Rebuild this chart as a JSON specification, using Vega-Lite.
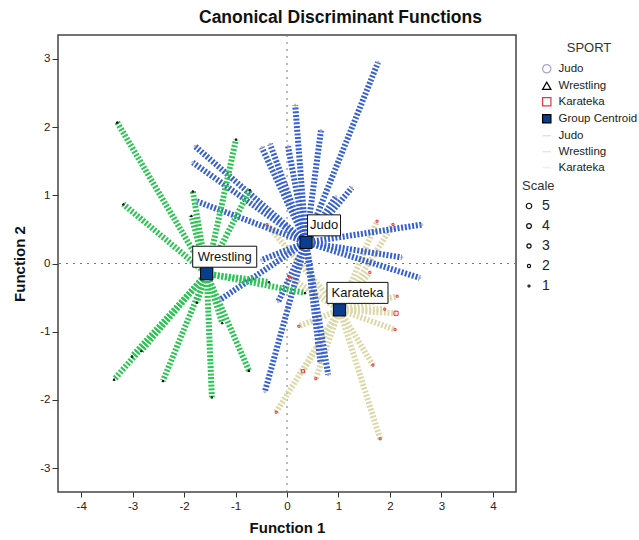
{
  "$schema": "https://vega.github.io/schema/vega-lite/v6.json",
  "width": 458,
  "height": 457,
  "autosize": {"type": "none"},
  "padding": {"left": 58, "top": 35, "right": 123, "bottom": 48},
  "background": "white",
  "config": {
    "font": "Liberation Sans",
    "view": {"stroke": "#444", "strokeWidth": 1.5},
    "axis": {"grid": false, "domain": false, "tickColor": "#333", "labelColor": "#222", "titleColor": "#111", "labelFontSize": 11.5, "titleFontSize": 15, "titleFontWeight": "bold", "labelExpr": "replace(datum.label, '\u2212', '-')"}
  },
  "title": {"text": "Canonical Discriminant Functions", "fontSize": 17.5, "fontWeight": "bold", "anchor": "start", "frame": "group", "dx": 141, "offset": 8, "color": "#111"},
  "datasets": {
    "cases": [
      {"group": "Karateka", "f1": -0.21, "f2": -2.18, "scale": 1},
      {"group": "Karateka", "f1": 1.81, "f2": -2.57, "scale": 1},
      {"group": "Karateka", "f1": 1.67, "f2": -1.49, "scale": 1},
      {"group": "Karateka", "f1": 0.56, "f2": -1.69, "scale": 1},
      {"group": "Karateka", "f1": 0.31, "f2": -1.58, "scale": 2},
      {"group": "Karateka", "f1": 0.23, "f2": -0.92, "scale": 1},
      {"group": "Karateka", "f1": 2.10, "f2": -0.97, "scale": 1},
      {"group": "Karateka", "f1": 2.12, "f2": -0.73, "scale": 3},
      {"group": "Karateka", "f1": 1.90, "f2": -0.67, "scale": 1},
      {"group": "Karateka", "f1": -0.39, "f2": 0.57, "scale": 1},
      {"group": "Karateka", "f1": 1.75, "f2": 0.62, "scale": 1},
      {"group": "Karateka", "f1": 2.06, "f2": 0.57, "scale": 1},
      {"group": "Karateka", "f1": 2.14, "f2": -0.48, "scale": 1},
      {"group": "Karateka", "f1": 1.61, "f2": -0.13, "scale": 1},
      {"group": "Karateka", "f1": 0.05, "f2": -0.20, "scale": 1},
      {"group": "Judo", "f1": 1.77, "f2": 2.95, "scale": 1},
      {"group": "Judo", "f1": 0.16, "f2": 2.32, "scale": 1},
      {"group": "Judo", "f1": 0.66, "f2": 1.95, "scale": 1},
      {"group": "Judo", "f1": 0.02, "f2": 1.72, "scale": 1},
      {"group": "Judo", "f1": -0.49, "f2": 1.70, "scale": 1},
      {"group": "Judo", "f1": -0.33, "f2": 1.75, "scale": 1},
      {"group": "Judo", "f1": 1.26, "f2": 1.11, "scale": 1},
      {"group": "Judo", "f1": 0.95, "f2": 0.98, "scale": 1},
      {"group": "Judo", "f1": -1.79, "f2": 1.72, "scale": 1},
      {"group": "Judo", "f1": -1.83, "f2": 1.48, "scale": 1},
      {"group": "Judo", "f1": -1.75, "f2": 0.91, "scale": 1},
      {"group": "Judo", "f1": 2.62, "f2": 0.57, "scale": 1},
      {"group": "Judo", "f1": 2.58, "f2": -0.21, "scale": 1},
      {"group": "Judo", "f1": 2.23, "f2": 0.09, "scale": 1},
      {"group": "Judo", "f1": -0.43, "f2": -1.88, "scale": 1},
      {"group": "Judo", "f1": 0.80, "f2": -1.63, "scale": 1},
      {"group": "Judo", "f1": 0.65, "f2": -1.45, "scale": 1},
      {"group": "Judo", "f1": -0.17, "f2": -0.56, "scale": 1},
      {"group": "Judo", "f1": -1.30, "f2": -0.53, "scale": 1},
      {"group": "Judo", "f1": -0.50, "f2": 0.05, "scale": 1},
      {"group": "Wrestling", "f1": -3.30, "f2": 2.07, "scale": 1},
      {"group": "Wrestling", "f1": -3.18, "f2": 0.87, "scale": 1},
      {"group": "Wrestling", "f1": -0.99, "f2": 1.82, "scale": 1},
      {"group": "Wrestling", "f1": -1.83, "f2": 1.06, "scale": 1},
      {"group": "Wrestling", "f1": -1.86, "f2": 0.70, "scale": 1},
      {"group": "Wrestling", "f1": -0.72, "f2": 1.08, "scale": 1},
      {"group": "Wrestling", "f1": -3.36, "f2": -1.70, "scale": 1},
      {"group": "Wrestling", "f1": -2.41, "f2": -1.72, "scale": 1},
      {"group": "Wrestling", "f1": -1.46, "f2": -1.96, "scale": 1},
      {"group": "Wrestling", "f1": -0.74, "f2": -1.57, "scale": 1},
      {"group": "Wrestling", "f1": 0.35, "f2": -0.43, "scale": 1},
      {"group": "Wrestling", "f1": -0.35, "f2": -0.27, "scale": 1},
      {"group": "Wrestling", "f1": -3.01, "f2": -1.36, "scale": 1},
      {"group": "Wrestling", "f1": -2.83, "f2": -1.28, "scale": 1},
      {"group": "Wrestling", "f1": -1.75, "f2": -0.57, "scale": 1},
      {"group": "Wrestling", "f1": -1.26, "f2": -0.87, "scale": 1}
    ],
    "centroids": [
      {"group": "Judo", "marker": "Group Centroid", "cf1": 0.37, "cf2": 0.31},
      {"group": "Wrestling", "marker": "Group Centroid", "cf1": -1.56, "cf2": -0.15},
      {"group": "Karateka", "marker": "Group Centroid", "cf1": 1.02, "cf2": -0.68}
    ]
  },
  "encoding": {
    "x": {"type": "quantitative", "scale": {"domain": [-4.45, 4.45], "nice": false, "zero": false}, "axis": {"title": "Function 1", "values": [-4, -3, -2, -1, 0, 1, 2, 3, 4], "tickSize": 5, "labelPadding": 3, "titlePadding": 9}},
    "y": {"type": "quantitative", "scale": {"domain": [-3.35, 3.35], "nice": false, "zero": false}, "axis": {"title": "Function 2", "values": [-3, -2, -1, 0, 1, 2, 3], "tickSize": 6, "labelPadding": 2, "titlePadding": 12}}
  },
  "layer": [
    {
      "data": {"values": [{}]},
      "mark": {"type": "rule", "stroke": "#777", "strokeDash": [2, 5], "strokeWidth": 1},
      "encoding": {"x": {"datum": 0, "type": "quantitative"}}
    },
    {
      "data": {"values": [{}]},
      "mark": {"type": "rule", "stroke": "#777", "strokeDash": [2, 5], "strokeWidth": 1},
      "encoding": {"y": {"datum": 0, "type": "quantitative"}}
    },
    {
      "data": {"name": "cases"},
      "transform": [{"lookup": "group", "from": {"data": {"name": "centroids"}, "key": "group", "fields": ["cf1", "cf2"]}}],
      "mark": {"type": "rule", "strokeWidth": 6, "strokeDash": [2, 1.7]},
      "encoding": {
        "x": {"field": "cf1", "type": "quantitative"},
        "y": {"field": "cf2", "type": "quantitative"},
        "x2": {"field": "f1"},
        "y2": {"field": "f2"},
        "color": {"field": "group", "type": "nominal", "scale": {"domain": ["Judo", "Wrestling", "Karateka"], "range": ["#3560d0", "#2bc552", "#ddd8aa"]}, "legend": null}
      }
    },
    {
      "data": {"name": "cases"},
      "mark": {"type": "point", "strokeWidth": 1, "opacity": 1},
      "encoding": {
        "x": {"field": "f1", "type": "quantitative"},
        "y": {"field": "f2", "type": "quantitative"},
        "shape": {"field": "group", "type": "nominal",
          "scale": {"domain": ["Judo", "Wrestling", "Karateka", "Group Centroid", "Judo·line", "Wrestling·line", "Karateka·line"], "range": ["circle", "triangle-up", "square", "square", "M-1,0H1", "M-1,0H1", "M-1,0H1"]},
          "legend": {"title": "SPORT", "orient": "none", "legendX": 483, "legendY": 7, "titleAnchor": "middle", "titleFontSize": 13, "titleFontWeight": "normal", "titleColor": "#333", "titlePadding": 8, "labelFontSize": 11.5, "labelColor": "#222", "symbolSize": 70, "symbolStrokeWidth": 1.2, "rowPadding": 3, "labelOffset": 6, "padding": 0, "labelExpr": "replace(datum.label, '·line', '')"}},
        "stroke": {"field": "group", "type": "nominal",
          "scale": {"domain": ["Judo", "Wrestling", "Karateka", "Group Centroid", "Judo·line", "Wrestling·line", "Karateka·line"], "range": ["#a6a6d6", "#000000", "#e23a3a", "#000000", "#d3dcf2", "#cdeed6", "#eeeeee"]},
          "legend": {"title": "SPORT", "orient": "none", "legendX": 483, "legendY": 7, "titleAnchor": "middle", "titleFontSize": 13, "titleFontWeight": "normal", "titleColor": "#333", "titlePadding": 8, "labelFontSize": 11.5, "labelColor": "#222", "symbolSize": 70, "symbolStrokeWidth": 1.2, "rowPadding": 3, "labelOffset": 6, "padding": 0, "labelExpr": "replace(datum.label, '·line', '')"}},
        "fill": {"field": "group", "type": "nominal",
          "scale": {"domain": ["Judo", "Wrestling", "Karateka", "Group Centroid", "Judo·line", "Wrestling·line", "Karateka·line"], "range": ["transparent", "transparent", "transparent", "#0b3d8f", "transparent", "transparent", "transparent"]},
          "legend": {"title": "SPORT", "orient": "none", "legendX": 483, "legendY": 7, "titleAnchor": "middle", "titleFontSize": 13, "titleFontWeight": "normal", "titleColor": "#333", "titlePadding": 8, "labelFontSize": 11.5, "labelColor": "#222", "symbolSize": 70, "symbolStrokeWidth": 1.2, "rowPadding": 3, "labelOffset": 6, "padding": 0, "labelExpr": "replace(datum.label, '·line', '')"}},
        "size": {"field": "scale", "type": "quantitative", "scale": {"domain": [1, 5], "range": [4, 30]},
          "legend": {"title": "Scale", "orient": "none", "legendX": 464, "legendY": 145, "values": [5, 4, 3, 2, 1], "titleFontSize": 13, "titleFontWeight": "normal", "titleColor": "#333", "titlePadding": 6, "labelFontSize": 14, "labelColor": "#222", "symbolType": "circle", "symbolStrokeColor": "#111", "symbolFillColor": "white", "symbolStrokeWidth": 1.2, "rowPadding": 6, "labelOffset": 6, "padding": 0, "offset": 0}}
      }
    },
    {
      "data": {"name": "centroids"},
      "mark": {"type": "point", "size": 150, "strokeWidth": 1, "opacity": 1},
      "encoding": {
        "x": {"field": "cf1", "type": "quantitative"},
        "y": {"field": "cf2", "type": "quantitative"},
        "shape": {"field": "marker", "type": "nominal"},
        "stroke": {"field": "marker", "type": "nominal"},
        "fill": {"field": "marker", "type": "nominal"}
      }
    },
    {
      "data": {"name": "centroids"},
      "transform": [{"filter": "datum.group === 'Wrestling'"}],
      "mark": {"type": "point", "shape": "M-32,-10.5H32V10.5H-32Z", "size": 4, "xOffset": 18, "yOffset": -17, "fill": "white", "fillOpacity": 1, "stroke": "#111", "strokeWidth": 1, "opacity": 1},
      "encoding": {"x": {"field": "cf1", "type": "quantitative"}, "y": {"field": "cf2", "type": "quantitative"}}
    },
    {
      "data": {"name": "centroids"},
      "transform": [{"filter": "datum.group === 'Judo'"}],
      "mark": {"type": "point", "shape": "M-16.5,-10.5H16.5V10.5H-16.5Z", "size": 4, "xOffset": 18, "yOffset": -17, "fill": "white", "fillOpacity": 1, "stroke": "#111", "strokeWidth": 1, "opacity": 1},
      "encoding": {"x": {"field": "cf1", "type": "quantitative"}, "y": {"field": "cf2", "type": "quantitative"}}
    },
    {
      "data": {"name": "centroids"},
      "transform": [{"filter": "datum.group === 'Karateka'"}],
      "mark": {"type": "point", "shape": "M-30.5,-10.5H30.5V10.5H-30.5Z", "size": 4, "xOffset": 18, "yOffset": -17, "fill": "white", "fillOpacity": 1, "stroke": "#111", "strokeWidth": 1, "opacity": 1},
      "encoding": {"x": {"field": "cf1", "type": "quantitative"}, "y": {"field": "cf2", "type": "quantitative"}}
    },
    {
      "data": {"name": "centroids"},
      "mark": {"type": "text", "fontSize": 13, "align": "center", "baseline": "middle", "dx": 18, "dy": -17, "color": "#111"},
      "encoding": {"x": {"field": "cf1", "type": "quantitative"}, "y": {"field": "cf2", "type": "quantitative"}, "text": {"field": "group"}}
    }
  ]
}
